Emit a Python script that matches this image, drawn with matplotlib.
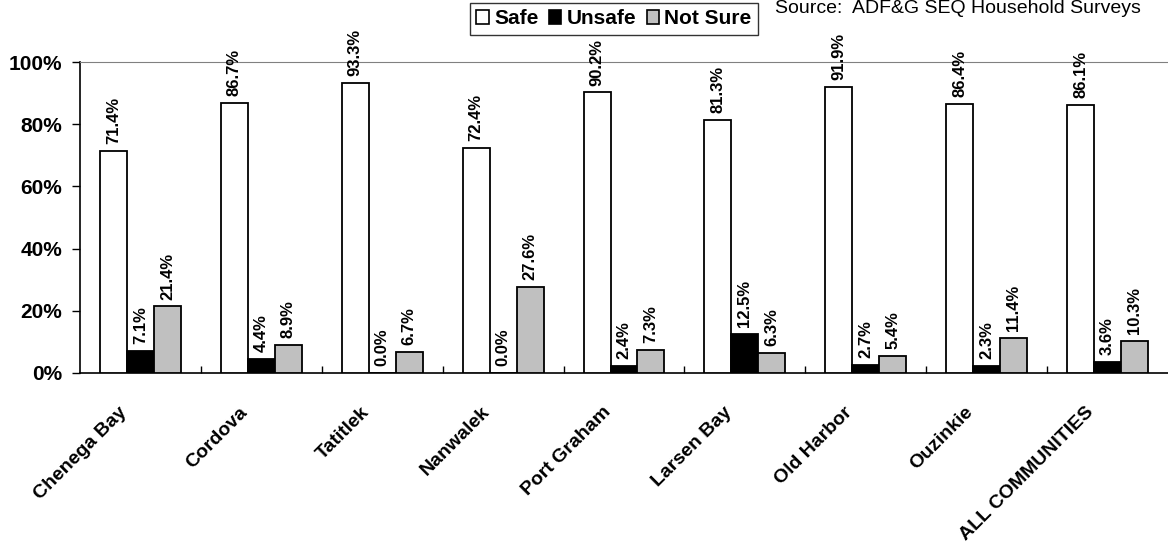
"""
plot.py

Perceived safety of subsistence foods by community.
"""
import matplotlib
matplotlib.use("Agg")
import matplotlib.pyplot as plt
import matplotlib.transforms as mtransforms
import numpy as np
from matplotlib.patches import Patch

# ============================================
#         data
# ============================================
communities = [
    "Chenega Bay", "Cordova", "Tatitlek", "Nanwalek", "Port Graham",
    "Larsen Bay", "Old Harbor", "Ouzinkie", "ALL COMMUNITIES",
]
safe = [71.4, 86.7, 93.3, 72.4, 90.2, 81.3, 91.9, 86.4, 86.1]
unsafe = [7.1, 4.4, 0.0, 0.0, 2.4, 12.5, 2.7, 2.3, 3.6]
not_sure = [21.4, 8.9, 6.7, 27.6, 7.3, 6.3, 5.4, 11.4, 10.3]

series = [("Safe", safe, "white"), ("Unsafe", unsafe, "black"),
          ("Not Sure", not_sure, "#c0c0c0")]

plt.rcParams["font.family"] = ["Liberation Sans", "DejaVu Sans"]

fig = plt.figure(figsize=(11.68, 5.51), dpi=100)
ax = fig.add_axes([80 / 1168, 1 - 373 / 551, 1 - 80 / 1168, (373 - 62) / 551])

x = np.arange(len(communities)) + 0.5
width = 0.223

for k, (name, vals, color) in enumerate(series):
    pos = x + (k - 1) * width
    ax.bar(pos, vals, width, color=color, edgecolor="black", linewidth=1.3,
           label=name, zorder=3)
    for px, v in zip(pos, vals):
        ax.annotate(f"{v:.1f}%", (px, v), xytext=(0, 5),
                    textcoords="offset points", rotation=90, ha="center",
                    va="bottom", fontsize=12, fontweight="bold")

ax.set_xlim(0, len(communities))
ax.set_ylim(0, 100)
ax.set_yticks(np.arange(0, 101, 20))
ax.set_yticklabels([f"{t}%" for t in range(0, 101, 20)],
                   fontsize=15, fontweight="bold")
ax.tick_params(axis="y", direction="out", length=6, width=1, pad=7)

# category labels: top-right corner sits left of and below the group centre
ax.set_xticks(x)
ax.set_xticklabels(communities, rotation=45, ha="right", va="top",
                   rotation_mode="anchor", fontsize=14, fontweight="bold")
ax.tick_params(axis="x", which="major", length=0, pad=22)
shift = mtransforms.ScaledTranslation(-22 / 100, 0, fig.dpi_scale_trans)
for lab in ax.get_xticklabels():
    lab.set_transform(lab.get_transform() + shift)
ax.set_xticks(np.arange(1, len(communities)), minor=True)
ax.tick_params(axis="x", which="minor", direction="in", length=5, width=1)

ax.spines["right"].set_visible(False)
ax.spines["top"].set_color("#808080")
ax.spines["left"].set_linewidth(1.2)
ax.spines["bottom"].set_linewidth(1.2)

handles = [Patch(facecolor=c, edgecolor="black", linewidth=1.2, label=n)
           for n, _, c in series]
leg = fig.legend(handles=handles, ncol=3, loc="upper left",
                 bbox_to_anchor=(470 / 1168, 1 - 3 / 551),
                 prop={"weight": "bold", "size": 15},
                 handlelength=0.6, handleheight=0.7, handletextpad=0.25,
                 columnspacing=0.5, borderpad=0.3, borderaxespad=0,
                 frameon=True, fancybox=False)
leg.get_frame().set_edgecolor("black")
leg.get_frame().set_linewidth(1.0)

fig.text(775 / 1168, 1.0, "Source:  ADF&G SEQ Household Surveys",
         ha="left", va="top", fontsize=14)

fig.savefig("out.png", dpi=100)
